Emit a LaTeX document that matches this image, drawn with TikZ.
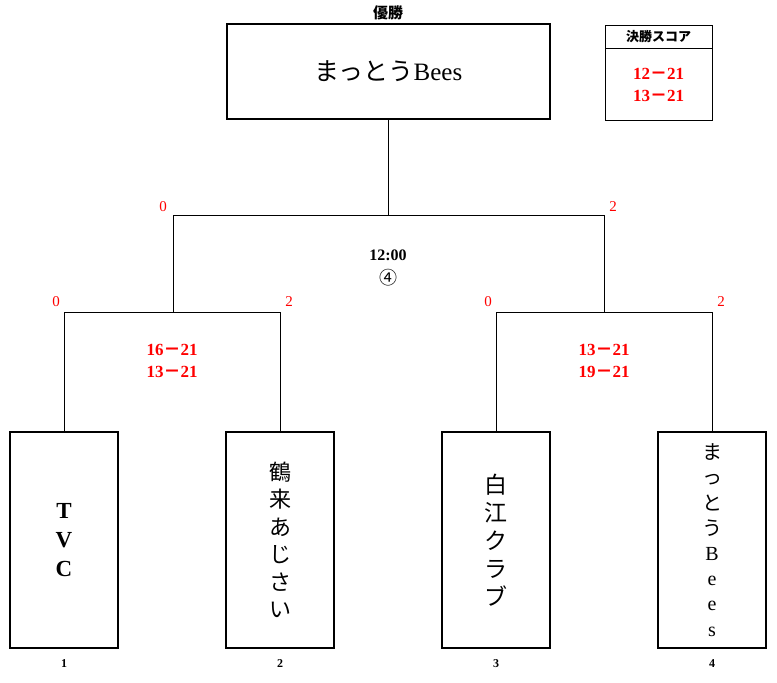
\documentclass[tikz,border=0pt]{standalone}
\usepackage{fontspec}
\setmainfont{Liberation Serif}
\newfontfamily\jp{Noto Sans CJK JP}
\usetikzlibrary{positioning}

\tikzset{
  champbox/.style={draw, line width=2.4pt, minimum width=323pt, minimum height=95pt, inner sep=0pt},
  teambox/.style={draw, line width=2.4pt, minimum width=108pt, minimum height=216pt, inner sep=0pt, align=center},
  finalbox/.style={draw, line width=0.8pt, minimum width=107pt, inner sep=0pt, align=center},
  pts/.style={text=red, font=\fontsize{15}{18}\selectfont},
  sets/.style={text=red, align=center, font=\fontsize{17}{22}\selectfont\bfseries},
  seed/.style={font=\fontsize{12}{14}\selectfont\bfseries}
}

\begin{document}
\begin{tikzpicture}[x=1pt, y=-1pt, line width=0.8pt]
  \useasboundingbox (0,0) rectangle (777,683);
  % champion and final score
  \node (win) at (388,13) {\fontsize{15}{18}\selectfont\jp\bfseries 優勝};
  \node[champbox] (champ) at (388.5,71.5) {\fontsize{25}{30}\selectfont{\jp まっとう}Bees};
  \node[finalbox, minimum height=23pt] (fhead) at (658.5,36.5) {\fontsize{13}{15}\selectfont\jp\bfseries 決勝スコア};
  \node[finalbox, minimum height=72pt, below=0pt of fhead, text=red, font=\fontsize{17}{22}\selectfont\bfseries] (fbody) {12{\jp －}21\\13{\jp －}21};

  % teams
  \node[teambox, font=\fontsize{23}{29}\selectfont\bfseries] (t1) at (64,540) {T\\V\\C};
  \node[teambox, font=\fontsize{22}{27.5}\selectfont\jp] (t2) at (280,540) {鶴\\来\\あ\\じ\\さ\\い};
  \node[teambox, font=\fontsize{23}{28}\selectfont\jp] (t3) at (496,540) {白\\江\\ク\\ラ\\ブ};
  \node[teambox, font=\fontsize{20}{25.2}\selectfont] (t4) at (712,540) {{\jp ま}\\{\jp っ}\\{\jp と}\\{\jp う}\\B\\e\\e\\s};
  \node[seed] (n1) at (64,664) {1};
  \node[seed] (n2) at (280,664) {2};
  \node[seed] (n3) at (496,664) {3};
  \node[seed] (n4) at (712,664) {4};

  % bracket
  \coordinate (top) at (388.5,215);
  \coordinate (sl) at (173,215);
  \coordinate (sr) at (604,215);
  \coordinate (ml) at (173,312);
  \coordinate (mr) at (604,312);
  \coordinate (a1) at (64,312);
  \coordinate (a2) at (280,312);
  \coordinate (b1) at (496,312);
  \coordinate (b2) at (712,312);
  \path[draw]
  (champ) edge (top)
  (sl) edge (sr)
  (sl) edge (ml)
  (sr) edge (mr)
  (a1) edge (a2)
  (b1) edge (b2)
  (a1) edge (t1)
  (a2) edge (t2)
  (b1) edge (t3)
  (b2) edge (t4)
  ;

  % scores
  \node[pts] (p1) at (163,207) {0};
  \node[pts] (p2) at (613,207) {2};
  \node[pts] (p3) at (56,302) {0};
  \node[pts] (p4) at (289,302) {2};
  \node[pts] (p5) at (488,302) {0};
  \node[pts] (p6) at (721,302) {2};
  \node[sets] (s1) at (172,361) {16{\jp －}21\\13{\jp －}21};
  \node[sets] (s2) at (604,361) {13{\jp －}21\\19{\jp －}21};
  \node (time) at (388,255) {\fontsize{16}{20}\selectfont\bfseries 12:00};
  \node (round) at (388,278) {\fontsize{18}{22}\selectfont\jp ④};
\end{tikzpicture}
\end{document}
